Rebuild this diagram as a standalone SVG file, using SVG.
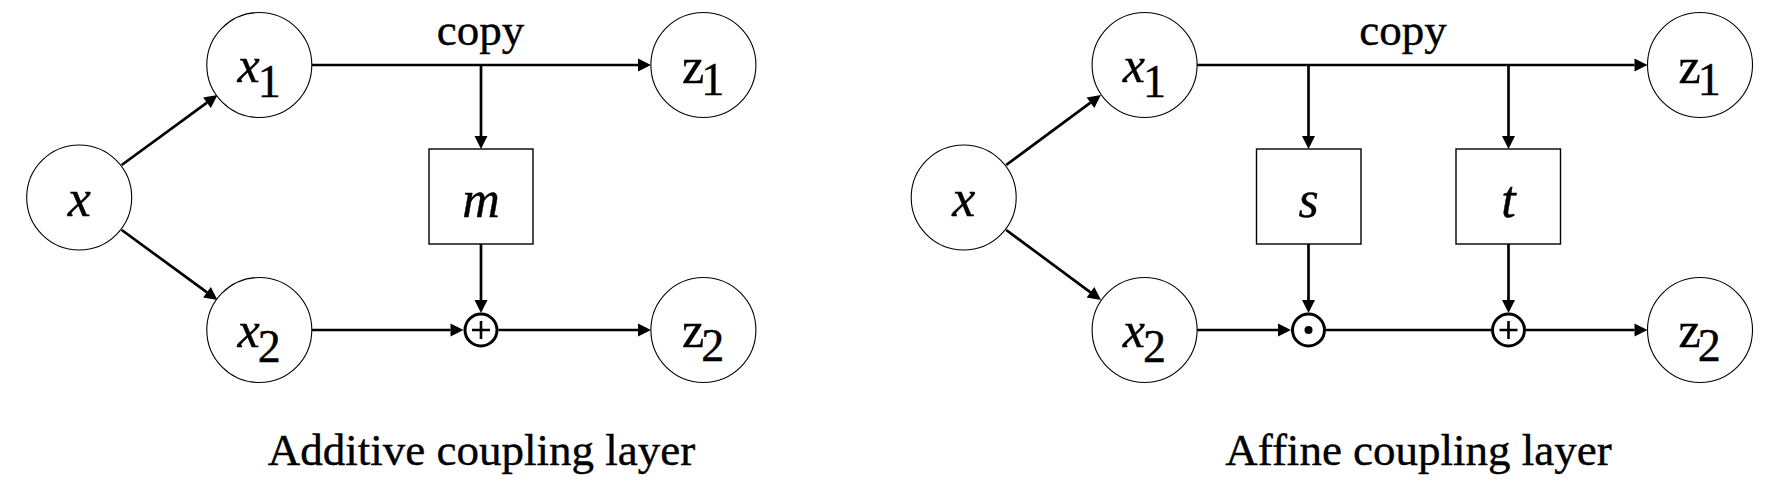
<svg xmlns="http://www.w3.org/2000/svg" width="1778" height="494" viewBox="0 0 1778 494">
<style>
.node{fill:#fff;stroke:#000;stroke-width:1.1}
.box{fill:#fff;stroke:#000;stroke-width:1.4}
.op{fill:#fff;stroke:#000;stroke-width:3}
.conn{fill:none;stroke:#000;stroke-width:2.7}
.arr{marker-end:url(#ah)}
text{font-family:"Liberation Serif","Times New Roman",serif;fill:#000;stroke:#000;stroke-width:0.4}
.lbl{font-size:45px;text-anchor:middle}
.vi{font-size:52px;font-style:italic;text-anchor:middle}
.v{font-size:50px}
.it{font-style:italic}
.sb{font-size:46px}
</style>
<defs>
<marker id="ah" markerUnits="userSpaceOnUse" markerWidth="14" markerHeight="14" refX="0" refY="6.5" orient="auto" overflow="visible">
<path d="M0,0 L13,6.5 L0,13 z" fill="#000" stroke="none"/>
</marker>
</defs>

<g id="connectors">
<path class="conn arr" d="M121.7,165 L207,102.7"/>
<path class="conn arr" d="M121.7,230 L207,292.3"/>
<path class="conn arr" d="M311.8,65 H638"/>
<path class="conn arr" d="M481,65 V136"/>
<path class="conn arr" d="M481,244 V300"/>
<path class="conn arr" d="M311.8,330 H450.5"/>
<path class="conn arr" d="M498.5,330 H638"/>
<path class="conn arr" d="M1006.2,165 L1090.5,102.7"/>
<path class="conn arr" d="M1006.2,230 L1090.5,292.3"/>
<path class="conn arr" d="M1197,65 H1634.5"/>
<path class="conn arr" d="M1308.5,65 V136"/>
<path class="conn arr" d="M1508.5,65 V136"/>
<path class="conn arr" d="M1308.5,244 V300"/>
<path class="conn arr" d="M1508.5,244 V300"/>
<path class="conn arr" d="M1197,330 H1278"/>
<path class="conn" d="M1326,330 H1491"/>
<path class="conn arr" d="M1526,330 H1634.5"/>
</g>

<g id="L_x"><circle class="node" cx="79.2" cy="197.5" r="52.5"/><text class="vi" x="79.2" y="216">x</text></g>
<g id="L_x1"><circle class="node" cx="259.3" cy="65" r="52.5"/><text class="v" x="237.5" y="82"><tspan class="it">x</tspan><tspan class="sb" dx="-2" dy="15">1</tspan></text></g>
<g id="L_x2"><circle class="node" cx="259.3" cy="330" r="52.5"/><text class="v" x="237.5" y="347"><tspan class="it">x</tspan><tspan class="sb" dx="-2" dy="15">2</tspan></text></g>
<g id="L_z1"><circle class="node" cx="703.4" cy="65" r="52.5"/><text class="v" x="682" y="83"><tspan>z</tspan><tspan class="sb" dx="-3" dy="12">1</tspan></text></g>
<g id="L_z2"><circle class="node" cx="703.4" cy="330" r="52.5"/><text class="v" x="682" y="347"><tspan>z</tspan><tspan class="sb" dx="-3" dy="14">2</tspan></text></g>
<g id="L_m"><rect class="box" x="429" y="149" width="104" height="95"/><text class="vi" x="481" y="217">m</text></g>
<g id="L_plus"><circle class="op" cx="481" cy="330" r="16"/><path d="M472,330 H490 M481,321 V339" stroke="#000" stroke-width="2.6"/></g>
<text class="lbl" x="480.5" y="45">copy</text>
<text class="lbl" x="481.5" y="465">Additive coupling layer</text>

<g id="R_x"><circle class="node" cx="963.7" cy="197.5" r="52.5"/><text class="vi" x="963.7" y="216">x</text></g>
<g id="R_x1"><circle class="node" cx="1144.6" cy="65" r="52.5"/><text class="v" x="1122.8" y="82"><tspan class="it">x</tspan><tspan class="sb" dx="-2" dy="15">1</tspan></text></g>
<g id="R_x2"><circle class="node" cx="1144.6" cy="330" r="52.5"/><text class="v" x="1122.8" y="347"><tspan class="it">x</tspan><tspan class="sb" dx="-2" dy="15">2</tspan></text></g>
<g id="R_z1"><circle class="node" cx="1700" cy="65" r="52.5"/><text class="v" x="1678.6" y="83"><tspan>z</tspan><tspan class="sb" dx="-3" dy="12">1</tspan></text></g>
<g id="R_z2"><circle class="node" cx="1700" cy="330" r="52.5"/><text class="v" x="1678.6" y="347"><tspan>z</tspan><tspan class="sb" dx="-3" dy="14">2</tspan></text></g>
<g id="R_s"><rect class="box" x="1256.5" y="149" width="104.5" height="95"/><text class="vi" x="1308.5" y="217">s</text></g>
<g id="R_t"><rect class="box" x="1456" y="149" width="104.5" height="95"/><text class="vi" x="1508.5" y="217">t</text></g>
<g id="R_dot"><circle class="op" cx="1308.5" cy="330" r="16"/><circle cx="1308.5" cy="330" r="4" fill="#000"/></g>
<g id="R_plus"><circle class="op" cx="1508.5" cy="330" r="16"/><path d="M1499.5,330 H1517.5 M1508.5,321 V339" stroke="#000" stroke-width="2.6"/></g>
<text class="lbl" x="1403" y="45">copy</text>
<text class="lbl" x="1418.5" y="465">Affine coupling layer</text>
</svg>
